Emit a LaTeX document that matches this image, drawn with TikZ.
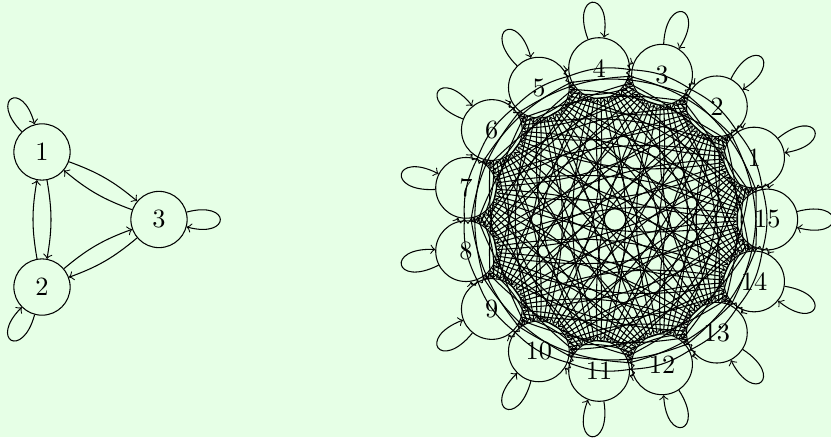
\documentclass[tikz,border=0pt]{standalone}
\definecolor{mintbg}{RGB}{230,255,230}
\tikzset{
	vertex/.style={draw, circle, inner sep=0pt, font=\fontsize{10}{12}\selectfont},
	selfloop/.style={looseness=8, min distance=5mm},
}
\begin{document}
\begin{tikzpicture}[>=to]
	\fill[mintbg] (0,0) rectangle (11.08,5.827);
	\useasboundingbox (0,0) rectangle (11.08,5.827);
	% three states
	\begin{scope}[shift={(1.08,2.9)}]
		\foreach \i in {1,...,3}
			\node[vertex, minimum size=0.75cm] (a\i) at (120*\i:1.04) {\i};
		\foreach \i in {1,...,3}
			\foreach \j in {1,...,3} {
				\ifnum\i=\j
					\draw[->] (a\i) to[selfloop, out=120*\i+15, in=120*\i-15] (a\i);
				\else
					\draw[->] (a\i) to[bend left=10] (a\j);
				\fi
			}
	\end{scope}
	% fifteen states
	\begin{scope}[shift={(8.2,2.9)}]
		\foreach \i in {1,...,15}
			\node[vertex, minimum size=0.81cm] (b\i) at (24*\i:2.03) {\i};
		\foreach \i in {1,...,15}
			\foreach \j in {1,...,15} {
				\ifnum\i=\j
					\draw[->] (b\i) to[selfloop, out=24*\i+15, in=24*\i-15] (b\i);
				\else
					\draw[->] (b\i) to[bend left=15] (b\j);
				\fi
			}
	\end{scope}
\end{tikzpicture}
\end{document}
